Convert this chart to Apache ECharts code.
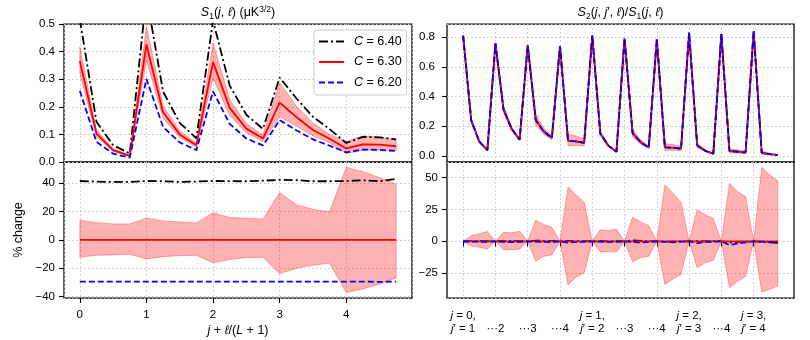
<!DOCTYPE html>
<html><head><meta charset="utf-8">
<script src="https://cdn.jsdelivr.net/npm/echarts@6/dist/echarts.min.js"></script>
<style>html,body{margin:0;padding:0;background:#fff}#c{width:810px;height:340px}</style>
</head><body><div id="c"></div>
<script>
// ---------------- DATA ----------------
const seriesNames = ['C = 6.40', 'C = 6.30', 'C = 6.20'];

// Left panels: x = j + l/(L+1)
const xS1 = [0,0.25,0.5,0.75,1,1.25,1.5,1.75,2,2.25,2.5,2.75,3,3.25,3.5,3.75,4,4.25,4.5,4.75];
const s1C640 = [0.518,0.146,0.061,0.031,0.603,0.255,0.142,0.086,0.512,0.277,0.171,0.120,0.306,0.231,0.164,0.119,0.069,0.091,0.089,0.082];
const s1C630 = [0.366,0.103,0.043,0.022,0.426,0.180,0.100,0.061,0.362,0.196,0.121,0.085,0.215,0.163,0.116,0.084,0.049,0.064,0.063,0.057];
const s1C620 = [0.258,0.073,0.030,0.016,0.301,0.127,0.071,0.043,0.256,0.138,0.085,0.060,0.152,0.115,0.082,0.059,0.035,0.045,0.044,0.040];
const s1BandUp = [0.417,0.1156,0.0479,0.0245,0.492,0.204,0.1127,0.0683,0.431,0.227,0.1395,0.0976,0.2868,0.2036,0.141,0.1006,0.0741,0.0948,0.0907,0.0794];
const s1BandLo = [0.3213,0.0919,0.0384,0.0198,0.3689,0.1588,0.0889,0.0544,0.3034,0.1688,0.1059,0.0746,0.1638,0.1304,0.0952,0.0701,0.0308,0.0419,0.0434,0.0417];

const pct1C640 = [41.6,41.2,40.9,41.0,41.6,41.4,41.0,41.2,41.6,41.5,41.4,41.8,42.4,42.2,41.4,41.4,41.6,42.1,41.4,43.1];
const pct1C630 = [0,0,0,0,0,0,0,0,0,0,0,0,0,0,0,0,0,0,0,0];
const pct1C620 = [-29.4,-29.5,-29.4,-29.4,-29.4,-29.4,-29.5,-29.4,-29.4,-29.4,-29.5,-29.4,-29.4,-29.4,-29.4,-29.5,-29.4,-29.4,-29.6,-29.4];
const pct1BandUp = [13.9,12.2,11.3,11.3,15.5,13.4,12.7,12.0,19.1,15.8,15.3,14.8,33.4,24.9,21.6,19.8,51.3,48.2,44.0,39.3];
const pct1BandLo = [-12.2,-10.8,-10.6,-10.1,-13.4,-11.8,-11.1,-10.8,-16.2,-13.9,-12.5,-12.2,-23.8,-20.0,-17.9,-16.5,-37.2,-34.6,-31.1,-26.8];

// Right panels: index over (j, j', l)
const xS2 = [0,1,2,3,4,5,6,7,8,9,10,11,12,13,14,15,16,17,18,19,20,21,22,23,24,25,26,27,28,29,30,31,32,33,34,35,36,37,38,39];
const s2C640 = [0.809,0.240,0.097,0.040, 0.757,0.316,0.184,0.111, 0.744,0.243,0.166,0.122, 0.740,0.103,0.099,0.089, 0.811,0.151,0.070,0.029, 0.791,0.155,0.093,0.058, 0.786,0.058,0.056,0.050, 0.829,0.072,0.035,0.016, 0.820,0.034,0.030,0.024, 0.840,0.021,0.013,0.006];
const s2C630 = [0.809,0.240,0.097,0.040, 0.757,0.315,0.184,0.111, 0.744,0.242,0.165,0.122, 0.740,0.103,0.099,0.089, 0.811,0.151,0.070,0.029, 0.791,0.154,0.093,0.058, 0.786,0.058,0.056,0.050, 0.829,0.072,0.035,0.016, 0.820,0.034,0.030,0.024, 0.840,0.021,0.013,0.006];
const s2C620 = [0.809,0.240,0.097,0.040, 0.757,0.314,0.183,0.110, 0.744,0.241,0.164,0.121, 0.740,0.102,0.098,0.089, 0.811,0.151,0.070,0.029, 0.791,0.153,0.092,0.058, 0.786,0.058,0.056,0.050, 0.829,0.071,0.035,0.016, 0.820,0.033,0.0295,0.024, 0.840,0.021,0.013,0.006];
const s2BandUp = [0.809,0.2506,0.1028,0.0431, 0.757,0.337,0.1963,0.1197, 0.744,0.2827,0.1873,0.1355, 0.740,0.147,0.1349,0.1162, 0.811,0.1647,0.076,0.0318, 0.791,0.1831,0.1074,0.0651, 0.786,0.0835,0.0771,0.0653, 0.829,0.0897,0.0422,0.0189, 0.820,0.0494,0.0417,0.0324, 0.840,0.0331,0.0197,0.0088];
const s2BandLo = [0.809,0.2318,0.0927,0.0376, 0.757,0.2945,0.172,0.1043, 0.744,0.2045,0.1457,0.1091, 0.740,0.0678,0.0721,0.0671, 0.811,0.1385,0.0644,0.0265, 0.791,0.1292,0.0809,0.0512, 0.786,0.0385,0.0396,0.0371, 0.829,0.0571,0.0291,0.0136, 0.820,0.0217,0.0207,0.0175, 0.840,0.0127,0.0081,0.0039];

const pct2C640 = [0,0.1,0.2,0.1, 0,0.2,0.3,0.2, 0,0.5,0.4,0.3, 0,0.3,0.2,0.1, 0,0.1,0,0.1, 0,0.7,0.3,0.2, 0,-0.2,-0.3,-0.1, 0,0.1,0,0.2, 0,-0.8,-0.5,-0.3, 0,-0.5,-0.8,-1.2];
const pct2C630 = [0,0,0,0, 0,0,0,0, 0,0,0,0, 0,0,0,0, 0,0,0,0, 0,0,0,0, 0,0,0,0, 0,0,0,0, 0,0,0,0, 0,0,0,0];
const pct2C620 = [0,-0.2,-0.3,-0.4, 0,-0.4,-0.6,-0.5, 0,-0.3,-0.5,-0.6, 0,-1.0,-0.6,-0.4, 0,-0.3,-0.4,-0.4, 0,-0.5,-1.0,-0.6, 0,-0.4,-0.8,-0.3, 0,-1.5,-0.5,-0.3, 0,-2.8,-1.8,-0.8, 0,-0.3,-0.4,-0.6];
const pct2BandUp = [0,4.4,6.0,7.6, 0,7.0,6.7,7.8, 0,16.7,13.2,10.8, 0,42.5,36.3,30.6, 0,9.0,8.5,9.5, 0,18.9,15.2,12.2, 0,44.0,37.6,30.5, 0,24.6,20.7,18.1, 0,45.3,38.9,35.0, 0,57.8,51.8,47.2];
const pct2BandLo = [0,-3.6,-4.6,-6.0, 0,-6.5,-6.5,-6.0, 0,-15.5,-11.7,-10.6, 0,-34.2,-27.8,-24.6, 0,-8.3,-8.0,-8.4, 0,-16.1,-12.7,-11.7, 0,-33.7,-29.5,-25.9, 0,-20.7,-16.8,-14.8, 0,-36.3,-31.3,-27.4, 0,-39.6,-37.6,-34.7];

// Tick values / labels
const leftXTicks = [0,1,2,3,4];
const s1YTicks = [0,0.1,0.2,0.3,0.4,0.5];
const pct1YTicks = [-40,-20,0,20,40];
const s2YTicks = [0,0.2,0.4,0.6,0.8];
const pct2YTicks = [-25,0,25,50];
const rightXTicks = [0,4,8,12,16,20,24,28,32,36];
const rightXTickLabels = ['j = 0,\nj\u2032 = 1','\u00b7\u00b7\u00b72','\u00b7\u00b7\u00b73','\u00b7\u00b7\u00b74','j = 1,\nj\u2032 = 2','\u00b7\u00b7\u00b73','\u00b7\u00b7\u00b74','j = 2,\nj\u2032 = 3','\u00b7\u00b7\u00b74','j = 3,\nj\u2032 = 4'];

// ---------------- CHART ----------------
const FONT = '"Liberation Sans", Arial, Helvetica, sans-serif';
const FS = 11.5;
const chart = echarts.init(document.getElementById('c'), null, {renderer: 'canvas'});

// axis ranges (matplotlib-style 5% margins)
const RANGE = {
  lx: [-0.2375, 4.9875],
  s1y: [0, 0.5],
  p1y: [-41, 55],
  rx: [-1.95, 40.95],
  s2y: [-0.04, 0.888],
  p2y: [-44.3, 62]
};

// evenly spaced slots for tick-only category axes (so ticks land exactly on the wanted values)
function slots(lo, hi, step){
  const n = Math.round((hi - lo) / step);
  const out = [];
  for (let k = 0; k <= n; k++) out.push(String(+(lo + k * step).toFixed(6)));
  return out;
}
const near = (v, arr) => arr.some(t => Math.abs(t - Number(v)) < 1e-6);

// category slots for the right-hand x axis (index padding on both sides)
const rightCats = [];
for (let v = -2; v <= 41; v++) rightCats.push(String(v));
const isRightTick = (val) => rightXTicks.indexOf(Number(val)) >= 0;

const STY = [
  {color:'#000000', width:1.8, type:[9,3,2,3]},
  {color:'#ff0000', width:1.8, type:'solid'},
  {color:'#0000ff', width:1.8, type:[6,3]}
];

function lineSeries(k, xi, yi, xs, ys, cat){
  return {type:'line', name: seriesNames[k], xAxisIndex:xi, yAxisIndex:yi,
    data: xs.map((x,i)=>[cat ? String(x) : x, ys[i]]),
    symbol:'none', showSymbol:false, lineStyle: STY[k], itemStyle:{color: STY[k].color}, color: STY[k].color,
    z: 2 + k, silent:true, animation:false, clip:true};
}
function bandSeries(xi, yi, xs, up, lo, cat){
  const xv = xs.map(x => cat ? String(x) : x);
  return {type:'custom', xAxisIndex:xi, yAxisIndex:yi, silent:true, animation:false, clip:true, z:1,
    data: xs.map((x,i)=>[xv[i], up[i], lo[i]]),
    encode:{x:0, y:[1,2]},
    renderItem: function(params, api){
      if (params.dataIndex !== 0) return null;
      const pts = [];
      for (let i=0;i<xs.length;i++) pts.push(api.coord([xv[i], up[i]]));
      for (let i=xs.length-1;i>=0;i--) pts.push(api.coord([xv[i], lo[i]]));
      return {type:'polygon', shape:{points:pts}, style:{fill:'rgba(255,0,0,0.3)', stroke:'rgba(255,0,0,0.3)', lineWidth:1}};
    }};
}
const minus = s => String(s).replace('-', '\u2212');
const splitLine = {show:true, lineStyle:{color:'#c4c4c4', width:1, type:[1.5,2.5]}};
const tickStyle = {lineStyle:{color:'#000', width:1.1}, length:5};
const labelBase = {color:'#000', fontSize:FS, fontFamily:FONT};

const grids = [
  {left:64, top:24, width:348, height:138},
  {left:64, top:162, width:348, height:136},
  {left:447, top:24, width:347, height:138},
  {left:447, top:162, width:347, height:136}
].map(g => Object.assign(g, {show:true, borderColor:'#000', borderWidth:1.25, backgroundColor:'transparent', containLabel:false}));

// value axes carry data, split lines and labels (no tick marks)
function valueAxis(gi, rng, step, ticks, fmt, margin, showLabels){
  return {type:'value', gridIndex:gi, min:rng[0], max:rng[1], minInterval:step, maxInterval:step,
    axisLine:{show:false}, axisTick:{show:false},
    axisLabel: Object.assign({show: showLabels, customValues: ticks, margin: margin, formatter: fmt}, labelBase),
    splitLine: splitLine};
}
// tick-only category axes
function tickAxis(gi, rng, step, ticks, position){
  return {type:'category', gridIndex:gi, position: position, data: slots(rng[0], rng[1], step), boundaryGap:false,
    axisLine:{show:false}, axisLabel:{show:false}, splitLine:{show:false},
    axisTick: Object.assign({show:true, interval: (i, v) => near(v, ticks)}, tickStyle)};
}
function rightXAxis(gi, showLabels){
  return {type:'category', gridIndex:gi, data: rightCats, boundaryGap:false,
    axisLine:{show:false},
    axisTick: Object.assign({show: showLabels, interval: (i, v) => isRightTick(v)}, tickStyle),
    axisLabel: Object.assign({show: showLabels, interval: (i, v) => isRightTick(v), margin:11, lineHeight:13,
      formatter: (v) => {
        const idx = rightXTicks.indexOf(Number(v));
        if (idx < 0) return '';
        const s = rightXTickLabels[idx];
        if (s.indexOf('\n') < 0) return ' \n' + s;
        return s.replace(/j/g, '{i|j}');
      },
      rich:{i:{fontStyle:'italic', fontSize:FS, fontFamily:FONT, color:'#000', lineHeight:13}}}, labelBase),
    splitLine: Object.assign({interval: (i, v) => isRightTick(v)}, splitLine)};
}
const fmt1 = v => v.toFixed(1);
const fmtInt = v => minus(Math.round(v));

const xAxes = [
  valueAxis(0, RANGE.lx, 1, leftXTicks, v => String(Math.round(v)), 11, false),            // 0
  Object.assign(valueAxis(1, RANGE.lx, 1, leftXTicks, v => String(Math.round(v)), 11, true), { // 1
    name:'{i|j} + {i|\u2113}/({i|L} + 1)', nameLocation:'middle', nameGap:26,
    nameTextStyle:{color:'#000', fontSize:12.5, fontFamily:FONT, rich:{i:{fontStyle:'italic', fontSize:12.5, fontFamily:FONT, color:'#000'}}}}),
  rightXAxis(2, false),                                                                     // 2
  rightXAxis(3, true),                                                                      // 3
  tickAxis(1, RANGE.lx, 0.0125, leftXTicks, 'bottom')                                       // 4
];
const yAxes = [
  valueAxis(0, RANGE.s1y, 0.1, s1YTicks, fmt1, 9, true),                                   // 0
  Object.assign(valueAxis(1, RANGE.p1y, 20, pct1YTicks, fmtInt, 9, true), {                // 1
    name:'% change', nameLocation:'middle', nameGap:39, nameRotate:90,
    nameTextStyle:{color:'#000', fontSize:12.5, fontFamily:FONT}}),
  valueAxis(2, RANGE.s2y, 0.2, s2YTicks, fmt1, 12, true),                                  // 2
  valueAxis(3, RANGE.p2y, 25, pct2YTicks, fmtInt, 9, true),                                // 3
  tickAxis(0, RANGE.s1y, 0.01, s1YTicks, 'left'),                                          // 4
  tickAxis(1, RANGE.p1y, 1, pct1YTicks, 'left'),                                           // 5
  tickAxis(2, RANGE.s2y, 0.004, s2YTicks, 'left'),                                         // 6
  tickAxis(3, RANGE.p2y, 0.1, pct2YTicks, 'left')                                          // 7
];

const series = [
  bandSeries(0, 0, xS1, s1BandUp, s1BandLo, false),
  lineSeries(0, 0, 0, xS1, s1C640, false), lineSeries(1, 0, 0, xS1, s1C630, false), lineSeries(2, 0, 0, xS1, s1C620, false),
  bandSeries(1, 1, xS1, pct1BandUp, pct1BandLo, false),
  lineSeries(0, 1, 1, xS1, pct1C640, false), lineSeries(1, 1, 1, xS1, pct1C630, false), lineSeries(2, 1, 1, xS1, pct1C620, false),
  bandSeries(2, 2, xS2, s2BandUp, s2BandLo, true),
  lineSeries(0, 2, 2, xS2, s2C640, true), lineSeries(1, 2, 2, xS2, s2C630, true), lineSeries(2, 2, 2, xS2, s2C620, true),
  bandSeries(3, 3, xS2, pct2BandUp, pct2BandLo, true),
  lineSeries(0, 3, 3, xS2, pct2C640, true), lineSeries(1, 3, 3, xS2, pct2C630, true), lineSeries(2, 3, 3, xS2, pct2C620, true)
];

const titleRich = {
  i:{fontStyle:'italic', fontSize:12.5, fontFamily:FONT, fill:'#000', lineHeight:16},
  n:{fontSize:12.5, fontFamily:FONT, fill:'#000', lineHeight:16},
  sub:{fontSize:8.5, fontFamily:FONT, fill:'#000', verticalAlign:'bottom', lineHeight:9},
  sup:{fontSize:8.5, fontFamily:FONT, fill:'#000', verticalAlign:'top', lineHeight:9}
};

const option = {
  animation:false,
  backgroundColor:'#ffffff',
  textStyle:{fontFamily:FONT},
  grid: grids,
  xAxis: xAxes,
  yAxis: yAxes,
  series: series,
  legend:{
    show:true, left:314, top:30, orient:'vertical', data: seriesNames,
    itemWidth:25, itemHeight:10, itemGap:7.5,
    itemStyle:{opacity:0},
    backgroundColor:'#ffffff', borderColor:'#cccccc', borderWidth:1, borderRadius:3,
    padding:[5,5,6,4],
    textStyle:{color:'#000', fontSize:12.5, fontFamily:FONT,
      rich:{i:{fontStyle:'italic', fontSize:12.5, fontFamily:FONT, color:'#000', padding:[0,0,0,5]},
            n:{fontSize:12.5, fontFamily:FONT, color:'#000'}}},
    formatter: name => '{i|C}{n|' + name.slice(1) + '}',
    selectedMode:false
  },
  graphic:[
    {type:'text', x:238, y:13, silent:true, style:{
      text:'{i|S}{sub|1}{n|(}{i|j}{n|, }{i|\u2113}{n|) (\u03bcK}{sup|3/2}{n|)}',
      align:'center', verticalAlign:'middle', fontSize:12.5, fontFamily:FONT, fill:'#000', lineHeight:16, rich:titleRich}},
    {type:'text', x:620.5, y:13, silent:true, style:{
      text:'{i|S}{sub|2}{n|(}{i|j}{n|, }{i|j}{n|\u2032, }{i|\u2113}{n|)/}{i|S}{sub|1}{n|(}{i|j}{n|, }{i|\u2113}{n|)}',
      align:'center', verticalAlign:'middle', fontSize:12.5, fontFamily:FONT, fill:'#000', lineHeight:16, rich:titleRich}}
  ]
};
chart.setOption(option);
</script>
</body></html>
